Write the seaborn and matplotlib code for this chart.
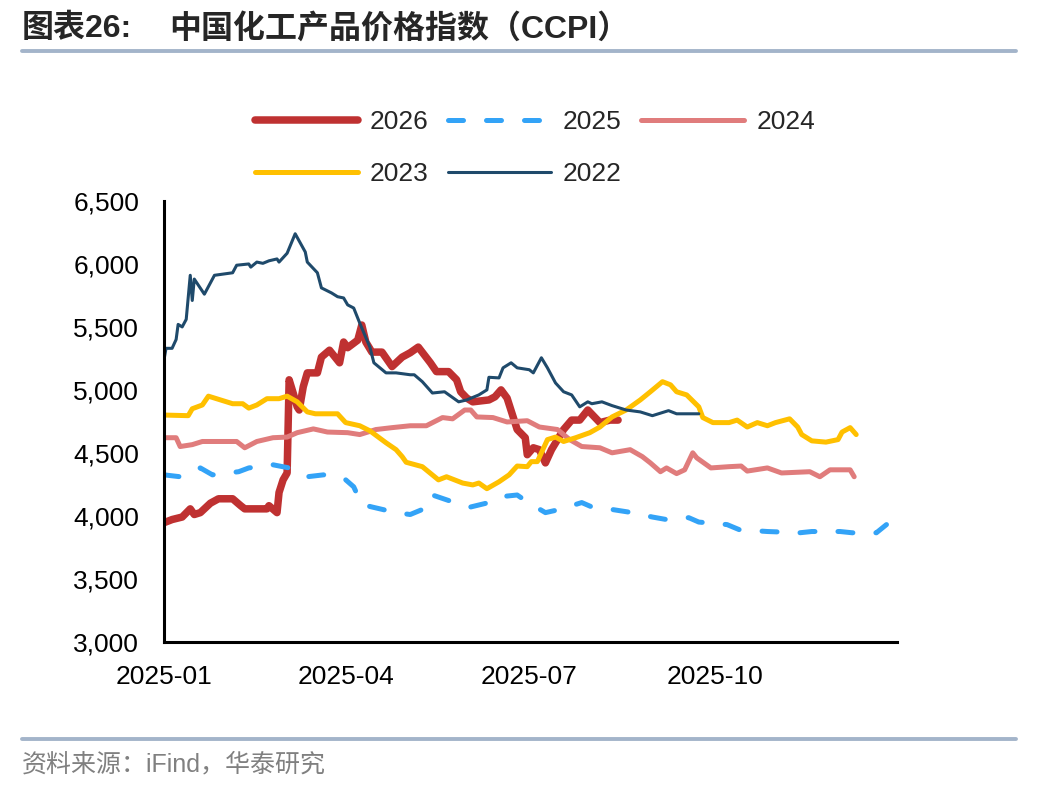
import numpy as np
import pandas as pd
import matplotlib
matplotlib.use("Agg")
import matplotlib.pyplot as plt
import matplotlib.dates as mdates
from matplotlib.lines import Line2D
from matplotlib.ticker import FuncFormatter
import seaborn as sns

# day offsets from 2025-01-01 and index values
day_2026 = [0, 4, 9, 13, 15, 18, 23, 27, 34, 38, 40, 51, 52, 56, 57, 59, 61, 62, 64, 66,
            67, 69, 71, 76, 78, 82, 85, 87, 89, 91, 96, 98, 100, 103, 108, 113, 118, 122,
            126, 132, 135, 141, 145, 147, 150, 153, 161, 164, 167, 170, 173, 175, 179, 180,
            183, 186, 189, 192, 195, 198, 202, 206, 210, 216, 221, 225]
val_2026 = [3945, 3970, 3990, 4055, 4010, 4025, 4100, 4135, 4135, 4080, 4055, 4055, 4080, 4025,
            4185, 4285, 4340, 5080, 4975, 4865, 4840, 5025, 5135, 5135, 5260, 5315, 5255, 5215,
            5380, 5335, 5395, 5515, 5380, 5300, 5300, 5185, 5260, 5295, 5340, 5215, 5145, 5145,
            5080, 4985, 4935, 4905, 4920, 4945, 5000, 4935, 4785, 4685, 4620, 4485, 4540, 4525,
            4420, 4525, 4605, 4685, 4760, 4760, 4840, 4740, 4760, 4760]

day_2025 = [0, 8, 18, 24, 37, 42, 54, 62, 71, 79, 89, 94, 98, 103, 115, 122, 131, 133, 144,
            152, 161, 166, 175, 180, 189, 196, 207, 212, 222, 232, 242, 249, 260, 265, 279,
            285, 299, 315, 321, 335, 341, 353, 358]
val_2025 = [4325, 4310, 4380, 4325, 4350, 4380, 4405, 4380, 4310, 4325, 4300, 4230, 4090, 4070,
            4025, 4010, 4070, 4165, 4105, 4070, 4105, 4150, 4165, 4110, 4025, 4050, 4105, 4070,
            4050, 4025, 3990, 3970, 3985, 3950, 3930, 3890, 3875, 3865, 3875, 3875, 3865, 3865,
            3930]

day_2024 = [0, 6, 8, 14, 19, 36, 40, 46, 54, 61, 66, 74, 81, 91, 97, 105, 113, 122, 130, 138,
            143, 149, 152, 155, 163, 170, 180, 186, 195, 201, 207, 216, 222, 231, 237, 241, 246,
            249, 254, 258, 262, 264, 271, 280, 286, 289, 299, 306, 320, 325, 330, 340, 342]
val_2024 = [4620, 4620, 4550, 4565, 4590, 4590, 4540, 4590, 4620, 4625, 4660, 4690, 4665, 4660,
            4645, 4685, 4700, 4715, 4715, 4780, 4770, 4840, 4840, 4785, 4780, 4745, 4755, 4705,
            4685, 4605, 4550, 4540, 4500, 4525, 4470, 4420, 4350, 4380, 4335, 4365, 4500, 4460,
            4380, 4390, 4395, 4355, 4380, 4340, 4350, 4310, 4365, 4365, 4310]

day_2023 = [0, 12, 14, 19, 22, 26, 34, 39, 42, 46, 51, 57, 61, 66, 71, 75, 86, 90, 97, 102,
            110, 115, 118, 120, 128, 136, 140, 148, 153, 156, 160, 166, 171, 175, 180, 182, 185,
            190, 194, 198, 204, 211, 216, 222, 229, 236, 241, 247, 251, 254, 259, 265, 267, 272,
            280, 284, 289, 294, 299, 303, 310, 314, 316, 321, 328, 334, 336, 340, 343]
val_2023 = [4800, 4795, 4850, 4880, 4950, 4930, 4890, 4890, 4855, 4880, 4930, 4930, 4950, 4905,
            4825, 4810, 4810, 4740, 4715, 4675, 4580, 4525, 4470, 4425, 4390, 4285, 4310, 4260,
            4245, 4260, 4215, 4270, 4325, 4395, 4390, 4430, 4430, 4605, 4625, 4590, 4620, 4660,
            4705, 4785, 4840, 4920, 4985, 5065, 5040, 4985, 4960, 4865, 4780, 4740, 4740, 4760,
            4705, 4740, 4715, 4740, 4770, 4705, 4645, 4595, 4585, 4605, 4665, 4700, 4645]

day_2022 = [0, 1, 4, 6, 7, 9, 11, 13, 14, 15, 20, 25, 34, 36, 42, 43, 46, 49, 52, 56, 57, 61,
            65, 70, 71, 76, 78, 83, 86, 89, 91, 94, 97, 102, 104, 110, 115, 122, 124, 128, 133,
            139, 146, 150, 156, 160, 161, 166, 168, 172, 175, 181, 183, 187, 190, 194, 198, 202,
            206, 210, 212, 217, 222, 229, 236, 242, 246, 250, 254, 265]
val_2022 = [5240, 5330, 5330, 5400, 5520, 5500, 5560, 5910, 5710, 5880, 5760, 5910, 5930, 5990,
            6000, 5975, 6015, 6005, 6025, 6040, 6015, 6085, 6240, 6095, 6015, 5930, 5810, 5770,
            5740, 5730, 5675, 5650, 5530, 5340, 5215, 5135, 5135, 5120, 5120, 5065, 4975, 4985,
            4905, 4920, 4960, 5000, 5100, 5095, 5175, 5215, 5175, 5160, 5135, 5255, 5175, 5055,
            4985, 4960, 4865, 4905, 4890, 4905, 4875, 4840, 4825, 4795, 4815, 4835, 4810, 4810]

years = ["2026", "2025", "2024", "2023", "2022"]
days = [day_2026, day_2025, day_2024, day_2023, day_2022]
values = [val_2026, val_2025, val_2024, val_2023, val_2022]
colors = ["#BF3131", "#33A3F7", "#E07C7C", "#FFC000", "#1F4A6B"]
widths = [5.4, 3.6, 3.6, 3.6, 2.2]

sns.set_theme(style="white")
plt.rcParams["font.family"] = ["Liberation Sans", "Noto Sans CJK SC", "DejaVu Sans"]

fig = plt.figure(figsize=(10.48, 7.92), dpi=100)
ax = fig.add_axes([0.1565, 0.1898, 0.699, 0.5564])

start = pd.Timestamp("2025-01-01")
for yr, d, v, c, w in zip(years, days, values, colors, widths):
    df = pd.DataFrame({"date": start + pd.to_timedelta(d, unit="D"), "value": v})
    kw = dict(solid_capstyle="round", solid_joinstyle="round")
    if yr == "2025":
        kw = dict(linestyle=(0, (3, 4.6)), dash_capstyle="round", dash_joinstyle="round")
    sns.lineplot(data=df, x="date", y="value", ax=ax, color=c, linewidth=w,
                 label=yr, legend=False, estimator=None, sort=False, **kw)

ax.set_xlim(pd.Timestamp("2025-01-01"), pd.Timestamp("2025-12-30"))
ax.set_ylim(3000, 6500)
ax.set_yticks(np.arange(3000, 6501, 500))
ax.yaxis.set_major_formatter(FuncFormatter(lambda v, p: f"{v:,.0f}"))
ax.xaxis.set_major_locator(mdates.MonthLocator(bymonth=[1, 4, 7, 10]))
ax.xaxis.set_major_formatter(mdates.DateFormatter("%Y-%m"))
ax.set_xlabel("")
ax.set_ylabel("")

for s in ["top", "right"]:
    ax.spines[s].set_visible(False)
for s in ["left", "bottom"]:
    ax.spines[s].set_color("black")
    ax.spines[s].set_linewidth(2.2)
ax.tick_params(axis="both", direction="out", length=5, width=1.8, color="black",
               labelsize=19, labelcolor="black")
ax.tick_params(axis="y", pad=13)
ax.tick_params(axis="x", pad=12)
ax.grid(False)

# legend: row-major order 2026 2025 2024 / 2023 2022
lines = {l.get_label(): l for l in ax.get_lines()}
order = ["2026", "2023", "2025", "2022", "2024"]
fig.legend([lines[k] for k in order], order, loc="upper left",
           bbox_to_anchor=(0.243, 0.861), ncol=3, frameon=False, fontsize=19,
           handlelength=3.9, handletextpad=0.45, columnspacing=0.75,
           labelspacing=1.05, borderpad=0, borderaxespad=0)

# header and footer
fig.text(22 / 1048, 0.963, "图表26:", fontsize=23, fontweight="bold", va="center", ha="left")
fig.text(169 / 1048, 0.963, "中国化工产品价格指数（CCPI）", fontsize=23, fontweight="bold",
         va="center", ha="left")
rule_kw = dict(color="#A3B4CA", linewidth=2.8, transform=fig.transFigure)
fig.add_artist(Line2D([22 / 1048, 1016 / 1048], [1 - 51 / 792] * 2, **rule_kw))
fig.add_artist(Line2D([22 / 1048, 1016 / 1048], [1 - 739 / 792] * 2, **rule_kw))
fig.text(22 / 1048, 1 - 764 / 792, "资料来源：iFind，华泰研究", fontsize=18, color="#808080",
         va="center", ha="left")

fig.savefig("out.png", dpi=100)
